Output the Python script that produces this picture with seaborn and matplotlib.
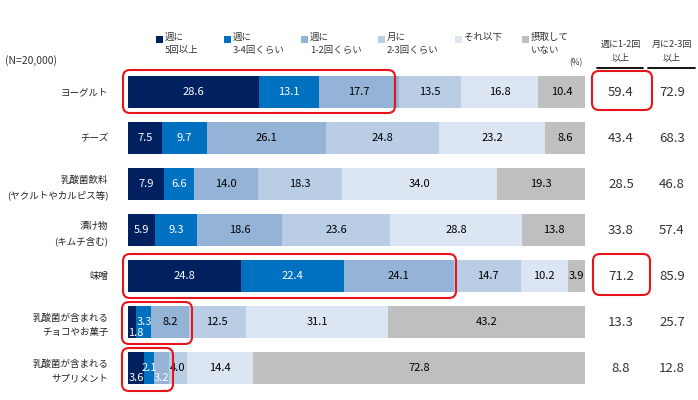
import numpy as np
import matplotlib
matplotlib.use("Agg")
import matplotlib.pyplot as plt
import seaborn as sns
from matplotlib.transforms import Affine2D
from matplotlib.patches import FancyBboxPatch, Rectangle

# ---- data ----
categories = ["ヨーグルト", "チーズ", "乳酸菌飲料\n(ヤクルトやカルピス等)", "漬け物\n(キムチ含む)",
              "味噌", "乳酸菌が含まれる\nチョコやお菓子", "乳酸菌が含まれる\nサプリメント"]
series_names = ["週に\n5回以上", "週に\n3-4回くらい", "週に\n1-2回くらい", "月に\n2-3回くらい",
                "それ以下", "摂取して\nいない"]
s1 = [28.6, 7.5, 7.9, 5.9, 24.8, 1.8, 3.6]
s2 = [13.1, 9.7, 6.6, 9.3, 22.4, 3.3, 2.1]
s3 = [17.7, 26.1, 14.0, 18.6, 24.1, 8.2, 3.2]
s4 = [13.5, 24.8, 18.3, 23.6, 14.7, 12.5, 4.0]
s5 = [16.8, 23.2, 34.0, 28.8, 10.2, 31.1, 14.4]
s6 = [10.4, 8.6, 19.3, 13.8, 3.9, 43.2, 72.8]
weekly_12 = [59.4, 43.4, 28.5, 33.8, 71.2, 13.3, 8.8]
monthly_23 = [72.9, 68.3, 46.8, 57.4, 85.9, 25.7, 12.8]
col_headers = ["週に1-2回\n以上", "月に2-3回\n以上"]
n_label = "(N=20,000)"
unit_label = "(%)"

colors = ["#002060", "#0070C0", "#95B3D7", "#B9CDE5", "#DCE6F2", "#BFBFBF"]
text_colors = ["white", "white", "black", "black", "black", "black"]

sns.set_theme(style="white")
plt.rcParams["font.family"] = ["Noto Sans CJK JP", "DejaVu Sans"]

W, H = 698, 400
fig = plt.figure(figsize=(W / 100, H / 100), dpi=100)
PX = Affine2D().scale(1, -1).translate(0, H)  # pixel coords from top-left

ax_left, ax_right = 128, 585
ax_top, ax_bottom = 69, 391
ax = fig.add_axes([ax_left / W, 1 - ax_bottom / H, (ax_right - ax_left) / W, (ax_bottom - ax_top) / H])

vals = np.array([s1, s2, s3, s4, s5, s6]).T  # rows x series
cum = np.cumsum(vals, axis=1)

for j in range(vals.shape[1] - 1, -1, -1):
    sns.barplot(x=cum[:, j], y=categories, order=categories, orient="h", color=colors[j],
                saturation=1, width=0.7, linewidth=0, ax=ax)

ax.set_xlim(0, 100)
ax.set_ylim(6.5, -0.5)
for sp in ax.spines.values():
    sp.set_visible(False)
ax.set_xticks([])
ax.set_xlabel("")
ax.set_ylabel("")
ax.tick_params(axis="y", length=0, pad=14, labelsize=6.8, colors="#222222")
for lbl in ax.get_yticklabels():
    lbl.set_linespacing(1.7)

# segment labels; some small segments are nudged (offsets in data units)
nudge = {(5, 0): (0.8, 0.24), (5, 1): (0.1, 0.0), (6, 0): (0.0, 0.22),
         (6, 2): (0.0, 0.22), (6, 1): (0.0, 0.0)}
label_color_override = {(6, 2): "white", (5, 0): "white"}
for i in range(vals.shape[0]):
    for j in range(vals.shape[1]):
        v = vals[i, j]
        xc = cum[i, j] - v / 2
        dx, dy = nudge.get((i, j), (0, 0))
        ax.text(xc + dx, i + dy, f"{v:.1f}", ha="center", va="center", fontsize=8,
                color=label_color_override.get((i, j), text_colors[j]), clip_on=False)

# right-side summary columns
col_x = [621, 672]
row_y = [92 + 46 * i for i in range(len(categories))]
for k, col in enumerate([weekly_12, monthly_23]):
    for i, v in enumerate(col):
        fig.text(col_x[k], row_y[i], f"{v:.1f}", transform=PX, ha="center", va="center",
                 fontsize=9.5, color="#333333")
    fig.text(col_x[k], 51, col_headers[k], transform=PX, ha="center", va="center",
             fontsize=6.5, color="#333333", linespacing=1.5)
fig.add_artist(plt.Line2D([597, 643], [68, 68], transform=PX, color="black", lw=1.3))
fig.add_artist(plt.Line2D([648, 695], [68, 68], transform=PX, color="black", lw=1.3))

# legend (manual)
leg_x = [156, 224, 301, 378, 455, 522]
for j, name in enumerate(series_names):
    fig.add_artist(Rectangle((leg_x[j], 36), 6.5, 6.5, transform=PX, facecolor=colors[j],
                             edgecolor="none"))
    fig.text(leg_x[j] + 9, 33, name, transform=PX, ha="left", va="top", fontsize=6.8,
             color="#333333", linespacing=1.6)

fig.text(5, 61, n_label, transform=PX, ha="left", va="center", fontsize=7.5, color="#333333")
fig.text(576, 63, unit_label, transform=PX, ha="center", va="center", fontsize=6, color="#333333")

# red highlight boxes (pixel coordinates)
boxes = [(123, 70, 395, 113), (592, 71, 652, 110), (123, 254, 456, 298),
         (593, 254, 650, 295), (122, 302, 192, 344), (122, 348, 173, 391)]
for x0, y0, x1, y1 in boxes:
    fig.add_artist(FancyBboxPatch((x0, y0), x1 - x0, y1 - y0, boxstyle="round,pad=0,rounding_size=7",
                                  transform=PX, fill=False, edgecolor="#E8141B", lw=1.5))

fig.savefig("out.png", dpi=100)
